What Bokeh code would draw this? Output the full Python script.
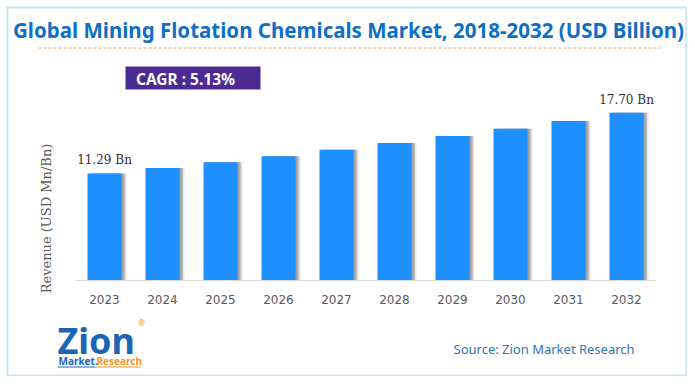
from bokeh.plotting import figure
from bokeh.models import (Label, LabelSet, BoxAnnotation, Arrow, Range1d,
                          ColumnDataSource, FixedTicker)
from bokeh.transform import dodge
from bokeh.embed import file_html
from bokeh.resources import INLINE
from bokeh.core.properties import value
import math

# ---------------- data ----------------
years = ["2023", "2024", "2025", "2026", "2027", "2028", "2029", "2030", "2031", "2032"]
revenue = [11.29, 11.87, 12.48, 13.12, 13.79, 14.50, 15.24, 16.02, 16.84, 17.70]
label_idx = [0, len(years) - 1]
label_values = [revenue[0], revenue[-1]]
label_texts = [f"{v:.2f} Bn" for v in label_values]

title_text = "Global Mining Flotation Chemicals Market, 2018-2032 (USD Billion)"
cagr_text = "CAGR :  5.13%"
y_label_text = "Revenue (USD Mn/Bn)"
source_text = "Source: Zion Market Research"

# ---------------- layout ----------------
W, H = 687, 376
PX_X = 58.0          # px per category
PX_Y = 9.478         # px per billion
X0 = 104.0           # px of first category centre
Y0 = 280.0           # px of baseline (from top)


def sx(X):
    return X


def sy(Y):
    return H - Y


xs = list(range(len(years)))
p = figure(width=W, height=H,
           x_range=Range1d(-X0 / PX_X, (W - X0) / PX_X),
           y_range=Range1d(-(H - Y0) / PX_Y, Y0 / PX_Y),
           output_backend="svg", toolbar_location=None, min_border=0)
p.background_fill_color = "white"
p.border_fill_color = "white"
p.outline_line_color = None
p.xgrid.visible = False
p.ygrid.visible = False
p.yaxis.visible = False

xa = p.xaxis[0]
xa.fixed_location = 0
xa.bounds = (-0.5, len(years) - 0.5)
xa.ticker = FixedTicker(ticks=xs)
xa.major_label_overrides = {i: y for i, y in zip(xs, years)}
xa.axis_line_color = "#D9D9D9"
xa.axis_line_width = 1
xa.major_tick_line_color = None
xa.minor_tick_line_color = None
xa.major_label_text_font = "DejaVu Sans"
xa.major_label_text_font_size = "12px"
xa.major_label_text_color = "#595959"
xa.major_label_standoff = 8

src = ColumnDataSource(dict(x=xs, rev=revenue))

BAR_W = 34 / PX_X
px = 1 / PX_X
# soft shadow on right side
for off, a in [(5.0, 0.18), (3.5, 0.28), (2.0, 0.38)]:
    p.vbar(x=dodge("x", off * px), top="rev", bottom=0, width=BAR_W,
           source=src, fill_color="#666666", fill_alpha=a, line_color=None)
p.vbar(x="x", top="rev", bottom=0, width=BAR_W, source=src,
       fill_color="#1E90FF", line_color=None)

lsrc = ColumnDataSource(dict(x=label_idx, y=label_values, t=label_texts))
p.add_layout(LabelSet(x="x", y="y", text="t", source=lsrc, text_align="center",
                      text_baseline="bottom", y_offset=6,
                      text_font=value("DejaVu Serif"), text_font_size=value("12px"),
                      text_color=value("#333333")))

# outer border
p.add_layout(BoxAnnotation(left=sx(7), right=sx(686), top=sy(7), bottom=sy(375),
                           left_units="screen", right_units="screen",
                           top_units="screen", bottom_units="screen",
                           fill_alpha=0, line_color="#5B9BD5", line_width=2))

# title
p.add_layout(Label(x=sx(348), y=sy(29), x_units="screen", y_units="screen",
                   text=title_text, text_align="center", text_baseline="middle",
                   text_font="Noto Sans", text_font_style="bold",
                   text_font_size="20.5px", text_color="#0F6FC6"))

# dashed orange rule
p.add_layout(Arrow(start=None, end=None, x_start=sx(38), y_start=sy(47.5),
                   x_end=sx(660), y_end=sy(47.5), start_units="screen", end_units="screen",
                   line_color="#F4A261", line_width=1, line_dash="3 2"))

# CAGR box
p.add_layout(BoxAnnotation(left=sx(125), right=sx(260), top=sy(66), bottom=sy(89),
                           left_units="screen", right_units="screen",
                           top_units="screen", bottom_units="screen",
                           fill_color="#4B2A91", fill_alpha=1, line_color=None))
p.add_layout(Label(x=sx(187), y=sy(78), x_units="screen", y_units="screen",
                   text=cagr_text, text_align="center", text_baseline="middle",
                   text_font="Noto Sans", text_font_style="bold",
                   text_font_size="15.5px", text_color="white"))

# y axis label
p.add_layout(Label(x=sx(46), y=sy(218), x_units="screen", y_units="screen",
                   text=y_label_text, angle=math.pi / 2, text_align="center",
                   text_baseline="middle", text_font="DejaVu Serif",
                   text_font_size="13px", text_color="#595959"))

# source
p.add_layout(Label(x=sx(453), y=sy(348), x_units="screen", y_units="screen",
                   text=source_text, text_align="left", text_baseline="middle",
                   text_font="Noto Sans", text_font_size="13px", text_color="#2E75B6"))

# logo
p.add_layout(Label(x=sx(57), y=sy(340), x_units="screen", y_units="screen",
                   text="Zion", text_align="left", text_baseline="middle",
                   text_font="Noto Sans", text_font_style="bold",
                   text_font_size="36px", text_color="#1C64B4"))
p.add_layout(Label(x=sx(141), y=sy(322), x_units="screen", y_units="screen",
                   text="®", text_align="center", text_baseline="middle",
                   text_font="Noto Sans", text_font_size="8px", text_color="#F7941D"))
p.add_layout(Label(x=sx(58), y=sy(360), x_units="screen", y_units="screen",
                   text="Market.", text_align="left", text_baseline="middle",
                   text_font="Noto Sans", text_font_style="bold",
                   text_font_size="10px", text_color="#1C64B4"))
p.add_layout(Label(x=sx(96), y=sy(360), x_units="screen", y_units="screen",
                   text="Research", text_align="left", text_baseline="middle",
                   text_font="Noto Sans", text_font_style="bold",
                   text_font_size="10px", text_color="#F7941D"))
p.add_layout(Arrow(start=None, end=None, x_start=sx(57), y_start=sy(366.5),
                   x_end=sx(95), y_end=sy(366.5), start_units="screen", end_units="screen",
                   line_color="#1C64B4", line_width=1))
p.add_layout(Arrow(start=None, end=None, x_start=sx(95), y_start=sy(366.5),
                   x_end=sx(140), y_end=sy(366.5), start_units="screen", end_units="screen",
                   line_color="#F7941D", line_width=1))

open("out.html", "w").write(file_html(p, INLINE))
